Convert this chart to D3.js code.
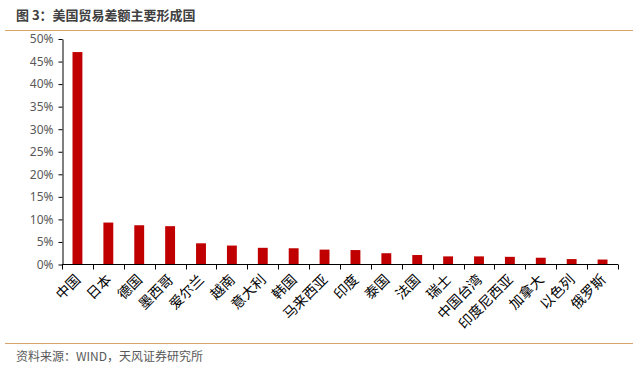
<!DOCTYPE html>
<html lang="zh">
<head>
<meta charset="UTF-8" />
<title>美国贸易差额主要形成国</title>
<style>
  body { margin: 0; background: #fff; }
  text { font-family: "Microsoft YaHei", "Noto Sans CJK SC", sans-serif; }
</style>
</head>
<body>
<svg width="633" height="384" id="svg"></svg>
<script src="https://cdn.jsdelivr.net/npm/d3@7/dist/d3.min.js"></script>
<script>
const countries = ["中国", "日本", "德国", "墨西哥", "爱尔兰", "越南", "意大利", "韩国", "马来西亚",
  "印度", "泰国", "法国", "瑞士", "中国台湾", "印度尼西亚", "加拿大", "以色列", "俄罗斯"]
const shares = [47.1, 9.3, 8.7, 8.5, 4.7, 4.2, 3.7, 3.6, 3.3, 3.2, 2.5, 2.1, 1.8, 1.8, 1.7, 1.5, 1.2, 1.1]
const yTicks = [0, 5, 10, 15, 20, 25, 30, 35, 40, 45, 50]

const svg = d3.select("#svg")
const margin = { top: 39, left: 62, right: 15, bottom: 120 }
const width = +svg.attr("width")
const height = +svg.attr("height")

// title and frame lines
svg.append("text")
  .attr("x", 16).attr("y", 20)
  .attr("font-size", 13).attr("font-weight", "bold").attr("fill", "#404040")
  .text("图 3：美国贸易差额主要形成国")
svg.append("line").attr("x1", 5).attr("x2", width).attr("y1", 30.5).attr("y2", 30.5)
  .attr("stroke", "#d9a46a").attr("stroke-width", 1)
svg.append("line").attr("x1", 5).attr("x2", width).attr("y1", 343.5).attr("y2", 343.5)
  .attr("stroke", "#d9a46a").attr("stroke-width", 1)
svg.append("text")
  .attr("x", 16).attr("y", 361)
  .attr("font-size", 12).attr("fill", "#595959")
  .text("资料来源：WIND，天风证券研究所")

const x = d3.scaleBand().domain(countries).range([margin.left, 618]).paddingInner(0.68).paddingOuter(0.34)
const y = d3.scaleLinear().domain([0, 50]).range([264.5, margin.top])

const g = svg.append("g")

g.selectAll("rect")
  .data(countries)
  .join("rect")
  .attr("x", d => x(d))
  .attr("width", x.bandwidth())
  .attr("y", (d, i) => y(shares[i]))
  .attr("height", (d, i) => y(0) - y(shares[i]))
  .attr("fill", "#c00000")

// y axis
const yAxis = g.append("g")
  .attr("transform", `translate(${margin.left + 0.5},0)`)
  .call(d3.axisLeft(y).tickValues(yTicks).tickFormat(d => d + "%").tickSize(4).tickSizeOuter(0))
yAxis.select(".domain").attr("stroke", "#000")
yAxis.selectAll(".tick line").attr("stroke", "#000")
yAxis.selectAll("text").attr("font-size", 12).attr("fill", "#595959").attr("x", -9)
  .style("font-family", "'Noto Sans', sans-serif")

// x axis with tick marks between categories
const step = x.step()
const bounds = d3.range(countries.length + 1).map(i => margin.left + i * step)
const xAxis = g.append("g").attr("transform", `translate(0,${y(0)})`)
xAxis.append("line").attr("x1", margin.left).attr("x2", 618).attr("stroke", "#000")
xAxis.selectAll(".tk").data(bounds).join("line")
  .attr("class", "tk")
  .attr("x1", d => Math.round(d) + 0.5).attr("x2", d => Math.round(d) + 0.5)
  .attr("y1", 0).attr("y2", 5).attr("stroke", "#000")

xAxis.selectAll(".lbl").data(countries).join("text")
  .attr("class", "lbl")
  .attr("font-size", 14).attr("fill", "#000")
  .attr("text-anchor", "end")
  .attr("transform", d => `translate(${x(d) + x.bandwidth() / 2 + 4},${16}) rotate(-45)`)
  .text(d => d)
</script>
</body>
</html>
